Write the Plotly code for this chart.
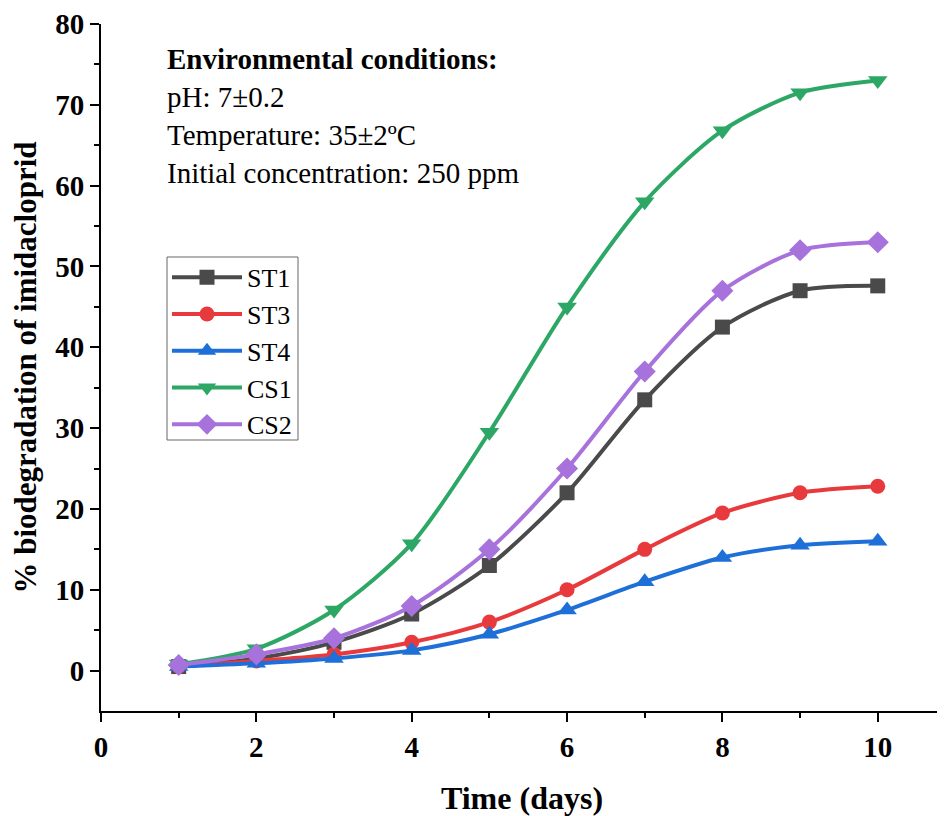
import plotly.graph_objects as go

days = [1, 2, 3, 4, 5, 6, 7, 8, 9, 10]
st1 = [0.5, 1.5, 3.5, 7.0, 13.0, 22.0, 33.5, 42.5, 47.0, 47.6]
st3 = [0.5, 1.2, 2.0, 3.5, 6.0, 10.0, 15.0, 19.5, 22.0, 22.8]
st4 = [0.5, 0.9, 1.5, 2.5, 4.5, 7.5, 11.0, 14.0, 15.5, 16.0]
cs1 = [0.8, 2.7, 7.5, 15.7, 29.5, 45.0, 58.0, 66.8, 71.5, 73.0]
cs2 = [0.7, 2.0, 4.0, 8.0, 15.0, 25.0, 37.0, 47.0, 52.0, 53.0]

series = [
    ("ST1", st1, "#4a4a4a", "square", 15),
    ("ST3", st3, "#e83a3d", "circle", 15),
    ("ST4", st4, "#1f6fd8", "triangle-up", 17),
    ("CS1", cs1, "#2da765", "triangle-down", 17),
    ("CS2", cs2, "#a772dc", "diamond", 17),
]

FONT = "Liberation Serif"
fig = go.Figure()
for name, ys, col, sym, sz in series:
    fig.add_trace(go.Scatter(
        x=days, y=ys, name=name, mode="lines+markers",
        line=dict(color=col, width=4, shape="spline", smoothing=0.8),
        marker=dict(symbol=sym, size=sz, color=col),
    ))

def px(xp):
    return (xp - 101) / 842

def py(yp):
    return (711 - yp) / 687

fig.update_layout(
    width=945, height=816,
    margin=dict(l=93, r=10, t=16, b=113),
    plot_bgcolor="white", paper_bgcolor="white",
    font=dict(family=FONT, color="black"),
    showlegend=True,
    legend=dict(
        x=px(167), y=0.6656, xanchor="left", yanchor="top",
        borderwidth=0, bgcolor="rgba(0,0,0,0)",
        font=dict(family=FONT, size=26, color="black"),
        tracegroupgap=0, itemwidth=70,
    ),
    xaxis=dict(
        range=[0, 10.84], tickvals=[0, 2, 4, 6, 8, 10], automargin=False,
        showline=True, linecolor="black", linewidth=2,
        ticks="outside", ticklen=9, tickwidth=2, tickcolor="black",
        ticklabelstandoff=0,
        minor=dict(tickvals=[1, 3, 5, 7, 9], ticks="outside", ticklen=5, tickwidth=2, tickcolor="black"),
        showgrid=False, zeroline=False,
        tickfont=dict(family=FONT, size=29, color="black", weight="bold"),
        title=dict(text="<b>Time (days)</b>", font=dict(family=FONT, size=32, color="black"), standoff=25),
    ),
    yaxis=dict(
        range=[-5, 80], tickvals=[0, 10, 20, 30, 40, 50, 60, 70, 80], automargin=False,
        showline=True, linecolor="black", linewidth=2,
        ticks="outside", ticklen=9, tickwidth=2, tickcolor="black",
        ticklabelstandoff=0,
        minor=dict(tickvals=[5, 15, 25, 35, 45, 55, 65, 75], ticks="outside", ticklen=5, tickwidth=2, tickcolor="black"),
        showgrid=False, zeroline=False,
        tickfont=dict(family=FONT, size=29, color="black", weight="bold"),
        title=dict(text="<b>% biodegradation of imidacloprid</b>", font=dict(family=FONT, size=31, color="black"), standoff=10),
    ),
)

fig.add_shape(
    type="rect", xref="paper", yref="paper",
    x0=px(167), x1=px(298), y0=py(440), y1=py(257),
    line=dict(color="#666666", width=1), fillcolor="white", layer="above",
)

lines = [
    ("<b>Environmental conditions:</b>", 59),
    ("pH: 7±0.2", 97),
    ("Temperature: 35±2ºC", 135),
    ("Initial concentration: 250 ppm", 173),
]
for txt, yp in lines:
    fig.add_annotation(
        text=txt, xref="paper", yref="paper",
        x=px(165), y=py(yp),
        xanchor="left", yanchor="middle", showarrow=False,
        font=dict(family=FONT, size=29, color="black"),
    )

fig.write_html("out.html")
